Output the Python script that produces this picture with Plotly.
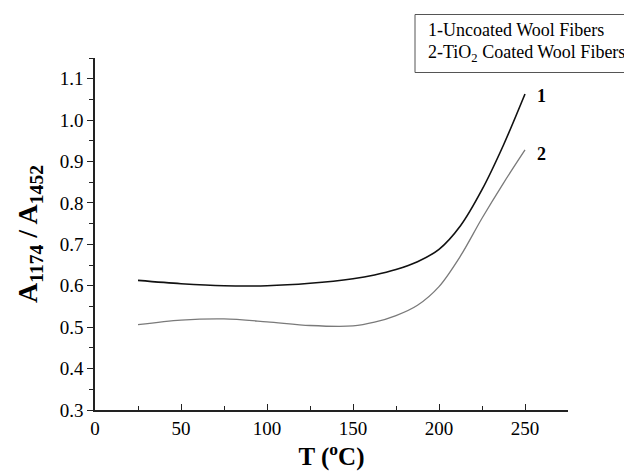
import plotly.graph_objects as go

temps = [25, 50, 75, 100, 125, 150, 162.5, 175, 187.5, 200, 212.5, 225, 237.5, 250]
uncoated = [0.613, 0.605, 0.600, 0.600, 0.606, 0.617, 0.626, 0.639, 0.658, 0.688, 0.745, 0.832, 0.940, 1.063]
coated = [0.506, 0.517, 0.520, 0.513, 0.504, 0.503, 0.512, 0.528, 0.553, 0.598, 0.672, 0.763, 0.848, 0.928]

legend_lines = ["1-Uncoated Wool Fibers", "2-TiO<sub>2</sub> Coated Wool Fibers"]
curve_labels = ["1", "2"]

FONT = "Liberation Serif"

fig = go.Figure()
fig.add_trace(go.Scatter(x=temps, y=uncoated, mode="lines",
                         line=dict(color="#111111", width=1.6, shape="spline", smoothing=0.9),
                         showlegend=False))
fig.add_trace(go.Scatter(x=temps, y=coated, mode="lines",
                         line=dict(color="#7a7a7a", width=1.3, shape="spline", smoothing=0.9),
                         showlegend=False))

fig.add_annotation(x=temps[-1], y=uncoated[-1], xref="x", yref="y", text="<b>%s</b>" % curve_labels[0],
                   showarrow=False, xanchor="left", xshift=10, yshift=-2,
                   font=dict(family=FONT, size=18, color="black"))
fig.add_annotation(x=temps[-1], y=coated[-1], xref="x", yref="y", text="<b>%s</b>" % curve_labels[1],
                   showarrow=False, xanchor="left", xshift=10, yshift=-4,
                   font=dict(family=FONT, size=18, color="black"))

# legend box
fig.add_shape(type="rect", xref="paper", yref="paper",
              x0=(415 - 95) / 473, x1=(640 - 95) / 473,
              y0=(410 - 72.5) / 352, y1=(410 - 14.5) / 352,
              line=dict(color="#555555", width=1), fillcolor="white")
fig.add_annotation(xref="paper", yref="paper", x=(426 - 95) / 473, y=(410 - 30) / 352,
                   text=legend_lines[0], showarrow=False, xanchor="left", yanchor="middle",
                   font=dict(family=FONT, size=18, color="black"))
fig.add_annotation(xref="paper", yref="paper", x=(426 - 95) / 473, y=(410 - 53) / 352,
                   text=legend_lines[1], showarrow=False, xanchor="left", yanchor="middle",
                   font=dict(family=FONT, size=18, color="black"))

fig.update_layout(
    width=624, height=474,
    margin=dict(l=95, r=56, t=58, b=64),
    paper_bgcolor="white", plot_bgcolor="white",
    font=dict(family=FONT, color="black"),
    xaxis=dict(range=[0, 275], tickmode="array", tickvals=[0, 50, 100, 150, 200, 250],
               ticks="inside", ticklen=6, tickwidth=1.2, tickcolor="#222",
               minor=dict(tickvals=[25, 75, 125, 175, 225, 275], ticks="inside", ticklen=4, tickcolor="#222"),
               showline=True, linecolor="#222", linewidth=1.5, showgrid=False, zeroline=False,
               tickfont=dict(family=FONT, size=19),
               title=dict(text="<b>T (<sup>o</sup>C)</b>", font=dict(family=FONT, size=25), standoff=4)),
    yaxis=dict(range=[0.3, 1.15], tickmode="array",
               tickvals=[0.3, 0.4, 0.5, 0.6, 0.7, 0.8, 0.9, 1.0, 1.1],
               ticktext=["0.3", "0.4", "0.5", "0.6", "0.7", "0.8", "0.9", "1.0", "1.1"],
               ticks="outside", ticklen=6, tickwidth=1.2, tickcolor="#222",
               minor=dict(tickvals=[0.35, 0.45, 0.55, 0.65, 0.75, 0.85, 0.95, 1.05, 1.15],
                          ticks="outside", ticklen=4, tickcolor="#222"),
               showline=True, linecolor="#222", linewidth=1.5, showgrid=False, zeroline=False,
               tickfont=dict(family=FONT, size=19),
               title=dict(text="<b>A<sub>1174</sub> / A<sub>1452</sub></b>", font=dict(family=FONT, size=28), standoff=14)),
)

fig.write_html("out.html")
